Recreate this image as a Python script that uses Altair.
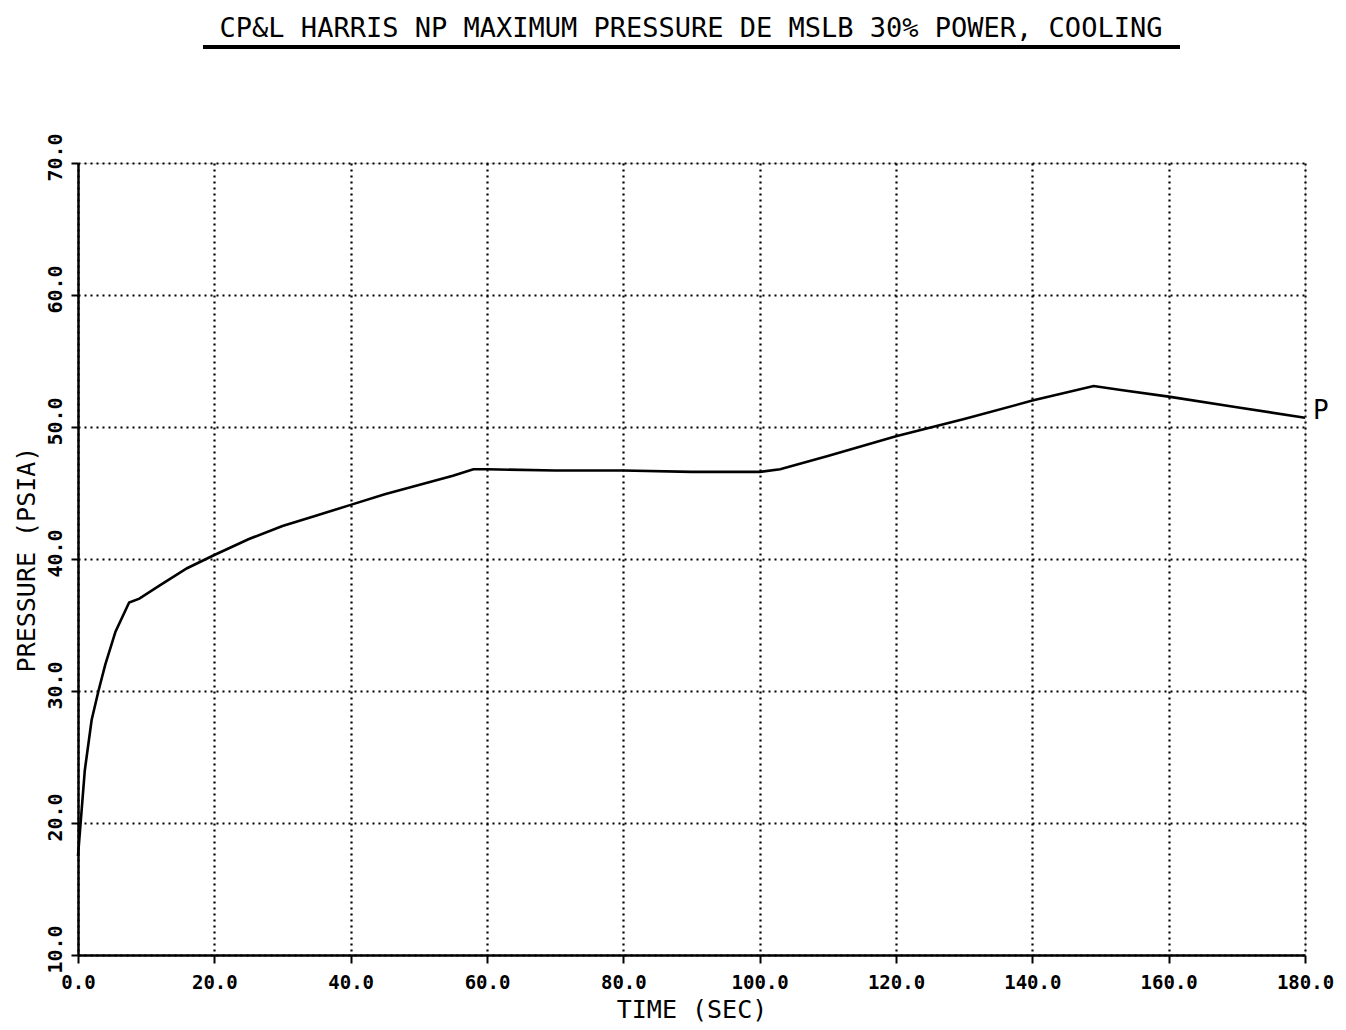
import altair as alt
import pandas as pd

time_s = [0, 1, 2, 3, 4, 5.5, 7.5, 9, 12, 16, 20, 25, 30, 35, 40, 45, 50, 55, 58, 60, 70, 80, 90, 100, 103,
          110, 120, 130, 140, 149, 153, 160, 170, 180]
pressure = [17.5, 24.0, 27.8, 30.0, 32.0, 34.5, 36.7, 37.0, 38.0, 39.3, 40.3, 41.5, 42.5, 43.3, 44.1, 44.9,
            45.6, 46.3, 46.8, 46.8, 46.7, 46.7, 46.6, 46.6, 46.8, 47.8, 49.3, 50.6, 52.0, 53.1, 52.8, 52.3,
            51.5, 50.7]
x_ticks = [0, 20, 40, 60, 80, 100, 120, 140, 160, 180]
y_ticks = [10, 20, 30, 40, 50, 60, 70]
title_text = "CP&L HARRIS NP MAXIMUM PRESSURE DE MSLB 30% POWER, COOLING"
curve_label = "P"

df = pd.DataFrame({"t": time_s, "p": pressure})
end_df = pd.DataFrame({"t": [time_s[-1]], "p": [pressure[-1]], "lab": [curve_label]})
title_df = pd.DataFrame({"txt": [title_text]})

FONT = "DejaVu Sans Mono"

x_enc = alt.X("t:Q", scale=alt.Scale(domain=[0, 180], nice=False, zero=False),
              axis=alt.Axis(values=x_ticks, format=".1f", title="TIME (SEC)",
                            grid=True, gridDash=[2, 4], gridColor="black", gridWidth=2.2,
                            domainColor="black", domainWidth=2.5, tickColor="black", tickWidth=2,
                            tickSize=8, labelFontSize=19, labelFont=FONT, labelColor="black",
                            labelFontWeight="bold",
                            labelPadding=10, titleFont=FONT, titleFontSize=25, titleFontWeight="normal",
                            titleColor="black", titlePadding=5, labelFlush=False))
y_enc = alt.Y("p:Q", scale=alt.Scale(domain=[10, 70], nice=False, zero=False),
              axis=alt.Axis(values=y_ticks, format=".1f", title="PRESSURE (PSIA)",
                            grid=True, gridDash=[2, 4], gridColor="black", gridWidth=2.2,
                            domainColor="black", domainWidth=2.5, tickColor="black", tickWidth=2,
                            tickSize=7, labelAngle=270, labelAlign="center", labelBaseline="bottom",
                            labelOffset=-6, labelFontWeight="bold",
                            labelFontSize=20, labelFont=FONT, labelColor="black", labelPadding=6,
                            titleFont=FONT, titleFontSize=25, titleFontWeight="normal",
                            titleColor="black", titlePadding=6, labelFlush=False))

line = alt.Chart(df).mark_line(color="black", strokeWidth=2.6).encode(x=x_enc, y=y_enc)

label = alt.Chart(end_df).mark_text(font=FONT, fontSize=26, color="black", align="left",
                                    baseline="bottom", dx=8, dy=6).encode(
    x="t:Q", y="p:Q", text="lab:N")

title_mark = alt.Chart(title_df).mark_text(font=FONT, fontSize=27, color="black", align="center",
                                           baseline="bottom").encode(
    x=alt.value(613), y=alt.value(-120), text="txt:N")

underline = alt.Chart(end_df).mark_rule(color="black", strokeWidth=4).encode(
    x=alt.value(125), x2=alt.value(1102), y=alt.value(-116))

chart = alt.layer(line, label, title_mark, underline).properties(
    width=1227, height=792,
    autosize=alt.AutoSizeParams(type="none"),
    padding={"left": 70, "top": 155, "right": 33, "bottom": 67},
).configure_view(stroke="black", strokeWidth=2.5).configure(background="white")

chart.save("out.html", embed_options={"renderer": "svg", "actions": False})
